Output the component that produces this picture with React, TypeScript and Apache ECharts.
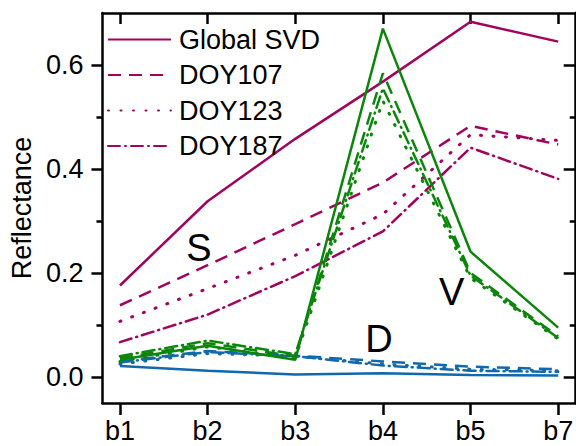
import React, { useEffect, useRef } from "react";
import * as echarts from "echarts";

const categories = ["b1", "b2", "b3", "b4", "b5", "b7"];
const legendNames = ["Global SVD", "DOY107", "DOY123", "DOY187"];

const sGlobal = [0.176, 0.338, 0.458, 0.568, 0.683, 0.645];
const sDoy107 = [0.138, 0.215, 0.294, 0.374, 0.483, 0.447];
const sDoy123 = [0.107, 0.170, 0.234, 0.313, 0.466, 0.455];
const sDoy187 = [0.067, 0.120, 0.194, 0.280, 0.441, 0.381];

const vGlobal = [0.033, 0.060, 0.033, 0.670, 0.241, 0.095];
const vDoy107 = [0.036, 0.065, 0.040, 0.584, 0.200, 0.078];
const vDoy123 = [0.030, 0.058, 0.037, 0.531, 0.190, 0.073];
const vDoy187 = [0.040, 0.070, 0.044, 0.555, 0.195, 0.075];

const dGlobal = [0.021, 0.012, 0.005, 0.007, 0.004, 0.003];
const dDoy107 = [0.030, 0.050, 0.041, 0.030, 0.020, 0.015];
const dDoy123 = [0.025, 0.045, 0.040, 0.025, 0.015, 0.012];
const dDoy187 = [0.028, 0.048, 0.040, 0.022, 0.012, 0.010];

const yMajorTicks = [0, 0.2, 0.4, 0.6];
const yMinorTicks = [0.1, 0.3, 0.5];

const annotations = [
  { text: "S", x: 0.9, y: 0.249 },
  { text: "D", x: 2.955, y: 0.073 },
  { text: "V", x: 3.785, y: 0.163 },
];

const MAGENTA = "#A1045E";
const GREEN = "#0A870A";
const BLUE = "#1068AD";
const FONT = 27;

const dashStyles: any[] = [
  { type: "solid", cap: "butt" },
  { type: [13, 8], cap: "butt" },
  { type: [1, 11.5], cap: "round" },
  { type: [12, 5, 1, 5], cap: "round" },
];

export default function App() {
  const ref = useRef<HTMLDivElement>(null);
  useEffect(() => {
    if (!ref.current) return;
    const chart = echarts.init(ref.current, null, { renderer: "svg" });
    const xIdx = categories.map((_, i) => i);
    const groups = [
      { color: MAGENTA, data: [sGlobal, sDoy107, sDoy123, sDoy187] },
      { color: BLUE, data: [dGlobal, dDoy107, dDoy123, dDoy187] },
      { color: GREEN, data: [vGlobal, vDoy107, vDoy123, vDoy187] },
    ];
    const series: any[] = [];
    groups.forEach((g) => {
      g.data.forEach((arr, k) => {
        series.push({
          type: "line",
          name: legendNames[k],
          data: arr.map((v, i) => [xIdx[i], v]),
          symbol: "none",
          color: g.color,
          lineStyle: {
            color: g.color,
            width: k === 2 ? 3 : 2.5,
            type: dashStyles[k].type,
            cap: dashStyles[k].cap,
          },
          silent: true,
        });
      });
    });
    series.push({
      type: "scatter",
      name: "annot",
      symbolSize: 0,
      silent: true,
      itemStyle: { opacity: 1 },
      data: annotations.map((a) => ({ value: [a.x, a.y], name: a.text })),
      label: {
        show: true,
        position: "inside",
        formatter: "{b}",
        fontSize: 38,
        color: "#000",
        opacity: 1,
        textBorderWidth: 0,
        fontFamily: "Liberation Sans",
      },
    });

    const axisLineStyle = { color: "#000", width: 2.5 };
    const baseX = {
      type: "value",
      min: -0.2,
      max: 5.2,
      splitLine: { show: false },
      axisLine: { show: true, onZero: false, lineStyle: axisLineStyle },
    };
    const baseY = {
      type: "value",
      min: -0.05,
      max: 0.7,
      splitLine: { show: false },
      axisLine: { show: true, onZero: false, lineStyle: axisLineStyle },
    };

    chart.setOption({
      animation: false,
      textStyle: { fontFamily: "Liberation Sans" },
      grid: { left: 97, top: 13, width: 481, height: 390, containLabel: false },
      legend: {
        data: legendNames,
        orient: "vertical",
        left: 107,
        top: 26,
        padding: 0,
        itemWidth: 63,
        itemHeight: 14,
        itemGap: 8.5,
        itemStyle: { opacity: 0 },
        textStyle: {
          fontSize: FONT,
          color: "#000",
          lineHeight: 25,
          padding: [0, 0, 0, 3],
          fontFamily: "Liberation Sans",
        },
        selectedMode: false,
      },
      xAxis: [
        {
          ...baseX,
          position: "bottom",
          axisTick: {
            show: true,
            inside: false,
            length: 12,
            customValues: xIdx,
            lineStyle: axisLineStyle,
          },
          axisLabel: {
            show: true,
            customValues: xIdx,
            formatter: (v: number) => categories[Math.round(v)] ?? "",
            fontSize: FONT,
            color: "#000",
            margin: 14,
          },
        },
        {
          ...baseX,
          position: "top",
          axisTick: {
            show: true,
            inside: true,
            length: 11,
            customValues: xIdx,
            lineStyle: axisLineStyle,
          },
          axisLabel: { show: false },
        },
      ],
      yAxis: [
        {
          ...baseY,
          position: "left",
          axisTick: {
            show: true,
            inside: false,
            length: 11,
            customValues: yMajorTicks,
            lineStyle: axisLineStyle,
          },
          axisLabel: {
            show: true,
            customValues: yMajorTicks,
            formatter: (v: number) => v.toFixed(1),
            fontSize: FONT,
            color: "#000",
            margin: 19,
          },
          name: "Reflectance",
          nameLocation: "middle",
          nameGap: 60,
          nameTextStyle: { fontSize: FONT, color: "#000" },
        },
        {
          ...baseY,
          position: "left",
          axisLine: { show: false, onZero: false },
          axisTick: {
            show: true,
            inside: false,
            length: 6,
            customValues: yMinorTicks,
            lineStyle: axisLineStyle,
          },
          axisLabel: { show: false },
        },
        {
          ...baseY,
          position: "right",
          axisTick: {
            show: true,
            inside: true,
            length: 12,
            customValues: yMajorTicks,
            lineStyle: axisLineStyle,
          },
          axisLabel: { show: false },
        },
        {
          ...baseY,
          position: "right",
          axisLine: { show: false, onZero: false },
          axisTick: {
            show: true,
            inside: true,
            length: 6,
            customValues: yMinorTicks,
            lineStyle: axisLineStyle,
          },
          axisLabel: { show: false },
        },
      ],
      series,
    });
    return () => chart.dispose();
  }, []);
  return (
    <div
      ref={ref}
      style={{ position: "fixed", left: 0, top: 0, width: 576, height: 446, background: "#fff" }}
    />
  );
}
